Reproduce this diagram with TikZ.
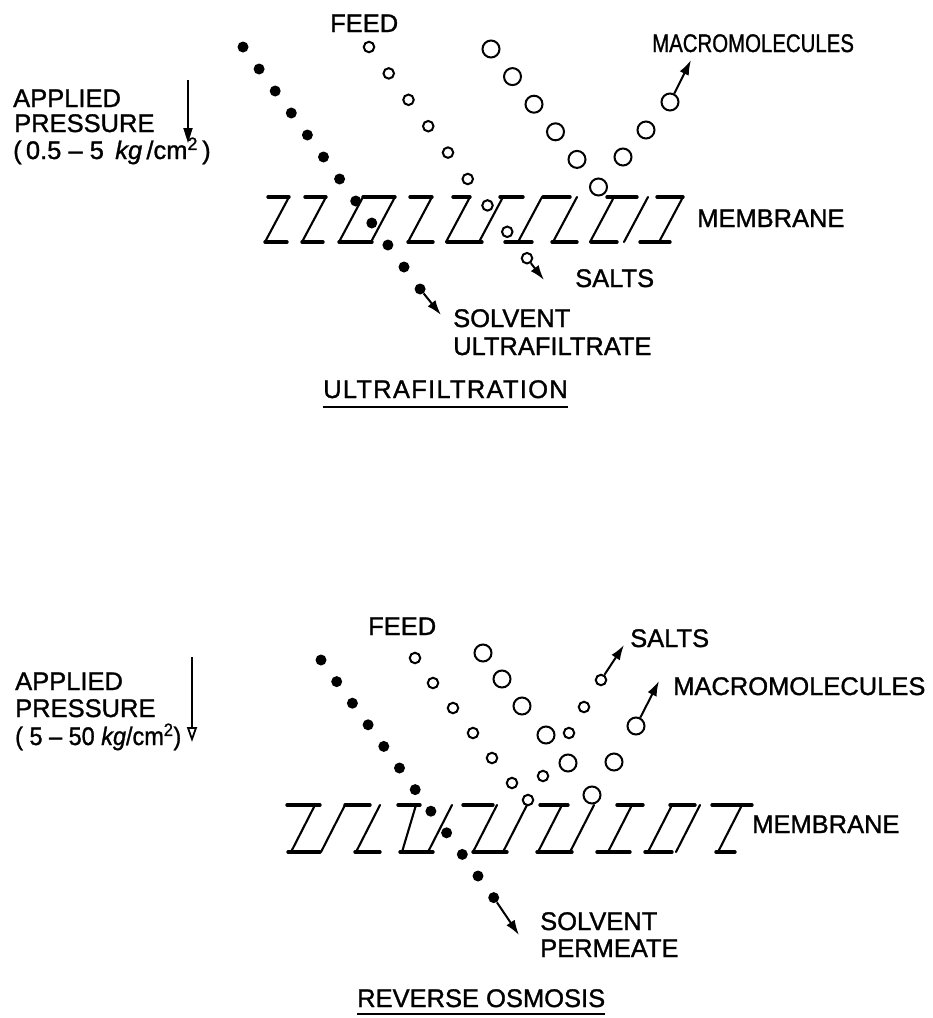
\documentclass[tikz,border=0pt]{standalone}
\usepackage{fontspec}
\setmainfont{Liberation Sans}[FakeBold=1.2]
\usetikzlibrary{arrows.meta}

\tikzset{
  lbl/.style={anchor=base west, inner sep=0pt, font=\fontsize{25.5}{30}\selectfont},
  solv/.style={circle, fill, inner sep=0pt, minimum size=11pt},
  salt/.style={circle, draw, line width=2pt, inner sep=0pt, minimum size=10.5pt},
  macro/.style={circle, draw, line width=2pt, inner sep=0pt, minimum size=17pt},
  flow/.style={-{Latex[length=15pt,width=10pt]}, line width=2pt},
  push/.style={-{Triangle[length=15pt,width=9pt]}, line width=1.8pt},
  bar/.style={line width=3.4pt, line cap=round},
  slant/.style={line width=2.1pt, line cap=round}
}

\begin{document}
\begin{tikzpicture}[x=1pt, y=-1pt]
  \useasboundingbox (0,0) rectangle (933,1018);

  % ---------- ultrafiltration ----------
  \node[lbl] (ufeed) at (330,32) {FEED};
  \node[lbl] (umacro) at (652,52) {\scalebox{0.8}[1]{MACROMOLECULES}};
  \node[lbl] (uapp) at (13,107) {APPLIED};
  \node[lbl] (upres) at (14,132) {PRESSURE};
  \node[lbl] (urange) at (13,159) {(\,0.5 -- 5\, \textit{kg}\,/cm\textsuperscript{2}\,)};
  \node[lbl] (umem) at (697,227) {MEMBRANE};
  \node[lbl] (usalt) at (575,287) {SALTS};
  \node[lbl] (usolv) at (453,327) {SOLVENT};
  \node[lbl] (ufilt) at (453,355) {ULTRAFILTRATE};
  \node[lbl, font=\fontsize{25.5}{30}\selectfont\addfontfeature{LetterSpace=5}] (utitle) at (323,398) {ULTRAFILTRATION};
  \draw[line width=1.6pt] ([yshift=-9pt]utitle.base west) -- ([yshift=-9pt]utitle.base east);

  \coordinate (upA) at (188,80);
  \coordinate (upB) at (188,143);
  \draw[push] (upA) -- (upB);

  % membrane
  \foreach \a/\b in {268/289, 305/326, 363/395, 410/432, 453/470, 500/523, 543/570, 607/637, 657/683}
    \draw[bar] (\a,197) -- (\b,197);
  \foreach \a/\b in {265/287, 302/323, 339/372, 408/433, 447/482, 505/532, 552/577, 591/617, 640/670}
    \draw[bar] (\a,242) -- (\b,242);
  \foreach \t in {289,326,363,395,432,470,503,542,577,614,648,683}
    \draw[slant] (\t,197) -- ++(-24,45);

  % particles
  \foreach \i in {0,...,11}
    \node[solv] (ud\i) at ({243+16.1*\i},{47+22*\i}) {};
  \foreach \i in {0,...,8}
    \node[salt] (us\i) at ({369+19.75*\i},{47+26.4*\i}) {};
  \foreach \i in {0,...,5}
    \node[macro] (um\i) at ({491+21.5*\i},{49+27.6*\i}) {};
  \node[macro] (um6) at (623,157) {};
  \node[macro] (um7) at (646,130) {};
  \node[macro] (um8) at (670,102) {};

  \coordinate (udtip) at (441,315);
  \coordinate (ustip) at (544,280);
  \coordinate (umtip) at (691,60);
  \draw[flow] (ud11) -- (udtip);
  \draw[flow] (us8) -- (ustip);
  \draw[flow] (um8) -- (umtip);

  % ---------- reverse osmosis ----------
  \node[lbl] (lfeed) at (368,635) {FEED};
  \node[lbl] (lsalt) at (630,647) {SALTS};
  \node[lbl] (lmacro) at (673,695) {MACROMOLECULES};
  \node[lbl] (lapp) at (15,690) {APPLIED};
  \node[lbl] (lpres) at (15,717) {PRESSURE};
  \node[lbl] (lrange) at (15,745) {\scalebox{0.92}[1]{( 5 -- 50 \textit{kg}/cm\textsuperscript{2})}};
  \node[lbl] (lmem) at (752,833) {MEMBRANE};
  \node[lbl] (lsolv) at (540,930) {SOLVENT};
  \node[lbl] (lperm) at (540,957) {PERMEATE};
  \node[lbl] (ltitle) at (357,1007) {REVERSE OSMOSIS};
  \draw[line width=1.6pt] ([yshift=-7pt]ltitle.base west) -- ([yshift=-7pt]ltitle.base east);

  \coordinate (lpA) at (192,657);
  \coordinate (lpB) at (192,742);
  \draw[push, -{Triangle[open,length=15pt,width=10pt]}] (lpA) -- (lpB);

  % membrane
  \foreach \a/\b in {287/320, 345/370, 398/420, 463/493, 540/568, 617/643, 670/695, 712/752}
    \draw[bar] (\a,805) -- (\b,805);
  \foreach \a/\b in {288/320, 355/380, 400/433, 473/507, 537/572, 597/630, 645/672, 716/735}
    \draw[bar] (\a,852) -- (\b,852);
  \foreach \t in {315,345,380,452,497,527,562,594,632,672,700,742}
    \draw[slant] (\t,805) -- ++(-24,47);
  \draw[slant] (416,805) -- (402,852);

  % particles
  \foreach \i in {0,...,11}
    \node[solv] (ld\i) at ({321+15.7*\i},{660+21.6*\i}) {};
  \foreach \x/\y [count=\k] in {415/658, 433/683, 453/708, 473/733, 492/758, 512/783, 528/800,
                               543/776, 569/733, 584/707, 601/680}
    \node[salt] (ls\k) at (\x,\y) {};
  \foreach \x/\y [count=\k] in {483/653, 502/679, 522/706, 546/735, 568/763, 592/795,
                               614/762, 636/726}
    \node[macro] (lm\k) at (\x,\y) {};

  \coordinate (ldtip) at (519,935);
  \coordinate (lstip) at (624,645);
  \coordinate (lmtip) at (659,681);
  \draw[flow] (ld11) -- (ldtip);
  \draw[flow] (ls11) -- (lstip);
  \draw[flow] (lm8) -- (lmtip);
\end{tikzpicture}
\end{document}
